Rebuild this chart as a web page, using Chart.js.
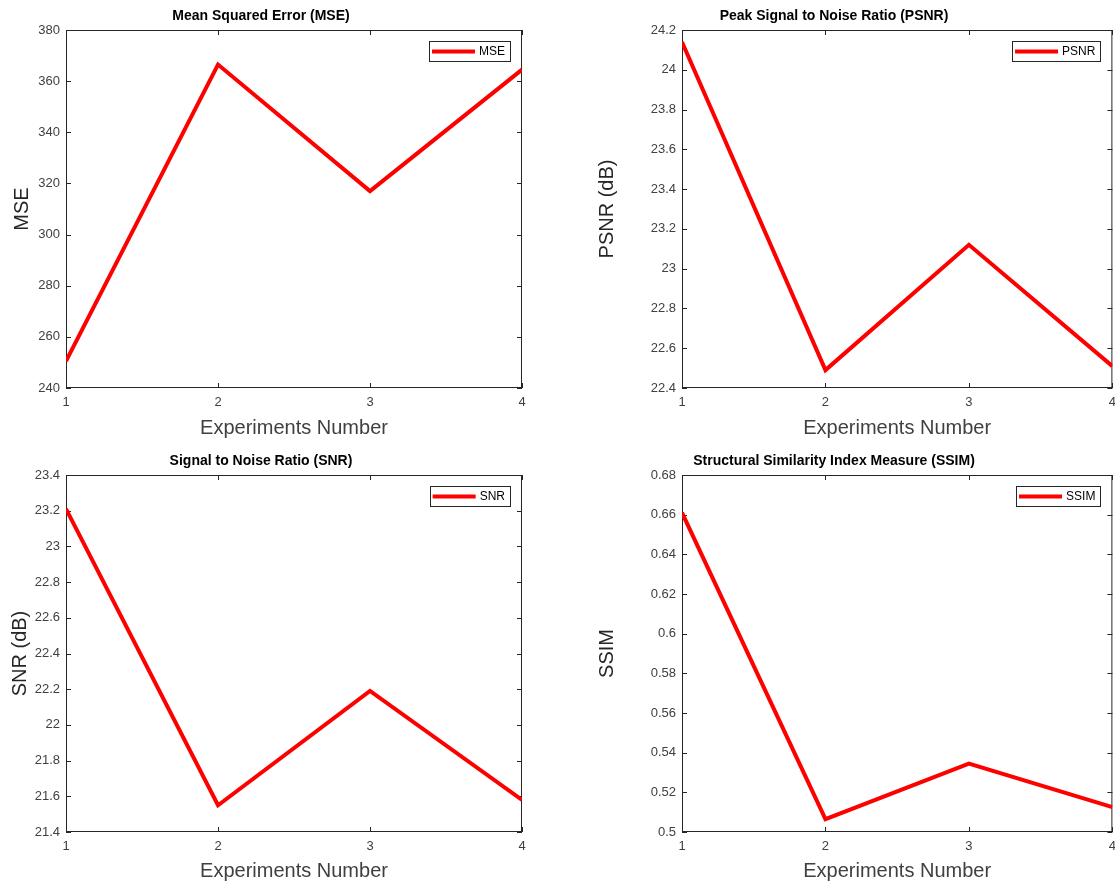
<!DOCTYPE html>
<html>
<head>
<meta charset="utf-8">
<script src="https://cdn.jsdelivr.net/npm/chart.js@4"></script>
<style>
  html, body { margin: 0; padding: 0; background: #fff; }
  #wrap { position: relative; width: 1115px; height: 886px; overflow: hidden; }
  canvas { position: absolute; }
</style>
</head>
<body>
<div id="wrap">
  <canvas id="mseChart" width="545" height="445" style="left:0;top:0"></canvas>
  <canvas id="psnrChart" width="578" height="445" style="left:545px;top:0"></canvas>
  <canvas id="snrChart" width="545" height="441" style="left:0;top:445px"></canvas>
  <canvas id="ssimChart" width="578" height="441" style="left:545px;top:445px"></canvas>
</div>
<script>
// data
const experiments = ['1', '2', '3', '4'];
const mseValues = [250.5, 366.5, 317, 364.5];
const psnrValues = [24.14, 22.49, 23.12, 22.51];
const snrValues = [23.21, 21.55, 22.19, 21.58];
const ssimValues = [0.661, 0.5065, 0.5345, 0.5125];

const AXIS_COLOR = '#262626';
const FONT = 'Liberation Sans, Arial, Helvetica, sans-serif';

// matlab style box: frame all round plus inward ticks
const boxPlugin = {
    id: 'matlabBox',
    beforeDatasetsDraw(chart) {
        const { ctx, chartArea: a, scales } = chart;
        ctx.save();
        ctx.strokeStyle = AXIS_COLOR;
        ctx.lineWidth = 1;
        ctx.strokeRect(a.left + 0.5, a.top + 0.5, a.right - a.left - 1, a.bottom - a.top - 1);
        const len = 5;
        ctx.beginPath();
        scales.y.ticks.forEach((t, i) => {
            const y = Math.round(scales.y.getPixelForTick(i)) + 0.5;
            ctx.moveTo(a.left, y); ctx.lineTo(a.left + len, y);
            ctx.moveTo(a.right, y); ctx.lineTo(a.right - len, y);
        });
        scales.x.ticks.forEach((t, i) => {
            const x = Math.round(scales.x.getPixelForTick(i)) + 0.5;
            ctx.moveTo(x, a.bottom); ctx.lineTo(x, a.bottom - len);
            ctx.moveTo(x, a.top); ctx.lineTo(x, a.top + len);
        });
        ctx.stroke();
        ctx.restore();
    },
    afterDatasetsDraw(chart) {
        // legend box in the top right corner of the axes
        const { ctx, chartArea: a } = chart;
        const ds = chart.data.datasets[0];
        ctx.save();
        ctx.font = '12px ' + FONT;
        const tw = ctx.measureText(ds.label).width;
        const w = 3 + 43 + 4 + tw + 5;
        const h = 20;
        const x = a.right - 12 - w;
        const y = a.top + 11;
        ctx.fillStyle = '#fff';
        ctx.fillRect(x, y, w, h);
        ctx.strokeStyle = AXIS_COLOR;
        ctx.lineWidth = 1;
        ctx.strokeRect(Math.round(x) + 0.5, y + 0.5, Math.round(w), h);
        ctx.strokeStyle = ds.borderColor;
        ctx.lineWidth = 4;
        ctx.beginPath();
        ctx.moveTo(x + 3, y + h / 2 + 0.5);
        ctx.lineTo(x + 46, y + h / 2 + 0.5);
        ctx.stroke();
        ctx.fillStyle = '#000';
        ctx.textBaseline = 'middle';
        ctx.fillText(ds.label, x + 50, y + h / 2 + 1);
        ctx.restore();
    }
};

function fmt(v) {
    return String(parseFloat(Number(v).toFixed(4)));
}

function makeChart(id, opts) {
    const ctx = document.getElementById(id).getContext('2d');
    return new Chart(ctx, {
        type: 'line',
        data: {
            labels: experiments,
            datasets: [{
                label: opts.label,
                data: opts.values,
                borderColor: '#ff0000',
                backgroundColor: '#ff0000',
                borderWidth: 4,
                pointRadius: 0,
                tension: 0,
                clip: 0,
                borderJoinStyle: 'miter'
            }]
        },
        options: {
            responsive: false,
            animation: false,
            layout: { padding: { left: 0, right: opts.rightPad, top: 0, bottom: 0 } },
            plugins: {
                legend: { display: false },
                tooltip: { enabled: false },
                title: {
                    display: true,
                    text: opts.title,
                    color: '#000',
                    font: { family: FONT, size: 14, weight: 'bold' },
                    padding: { top: 8, bottom: 5.2 }
                }
            },
            scales: {
                x: {
                    offset: false,
                    grid: { display: false, drawTicks: false },
                    border: { display: false },
                    ticks: { color: '#404040', padding: 7, font: { family: FONT, size: 13 }, maxRotation: 0 },
                    title: {
                        display: true,
                        text: 'Experiments Number',
                        color: '#404040',
                        font: { family: FONT, size: 20 },
                        padding: { top: 0, bottom: opts.xTitlePad }
                    },
                    afterFit: (scale) => { scale.height = opts.xHeight; }
                },
                y: {
                    min: opts.min,
                    max: opts.max,
                    grid: { display: false, drawTicks: false },
                    border: { display: false },
                    ticks: {
                        stepSize: opts.step,
                        color: '#404040',
                        padding: 6,
                        font: { family: FONT, size: 13 },
                        callback: (v) => fmt(v)
                    },
                    title: {
                        display: true,
                        text: opts.yTitle,
                        color: '#262626',
                        font: { family: FONT, size: 20 },
                        padding: { top: opts.yTitlePad, bottom: 0 }
                    },
                    afterFit: (scale) => { scale.width = opts.yWidth; }
                }
            }
        },
        plugins: [boxPlugin]
    });
}

makeChart('mseChart', {
    label: 'MSE', values: mseValues, title: 'Mean Squared Error (MSE)', yTitle: 'MSE',
    min: 240, max: 380, step: 20, rightPad: 23, yWidth: 66, yTitlePad: 10, xHeight: 57, xTitlePad: 5
});
makeChart('psnrChart', {
    label: 'PSNR', values: psnrValues, title: 'Peak Signal to Noise Ratio (PSNR)', yTitle: 'PSNR (dB)',
    min: 22.4, max: 24.2, step: 0.2, rightPad: 0, yWidth: 137, yTitlePad: 50, xHeight: 57, xTitlePad: 5
});
makeChart('snrChart', {
    label: 'SNR', values: snrValues, title: 'Signal to Noise Ratio (SNR)', yTitle: 'SNR (dB)',
    min: 21.4, max: 23.4, step: 0.2, rightPad: 23, yWidth: 66, yTitlePad: 8, xHeight: 54, xTitlePad: 3
});
makeChart('ssimChart', {
    label: 'SSIM', values: ssimValues, title: 'Structural Similarity Index Measure (SSIM)', yTitle: 'SSIM',
    min: 0.5, max: 0.68, step: 0.02, rightPad: 0, yWidth: 137, yTitlePad: 50, xHeight: 54, xTitlePad: 3
});
</script>
</body>
</html>
